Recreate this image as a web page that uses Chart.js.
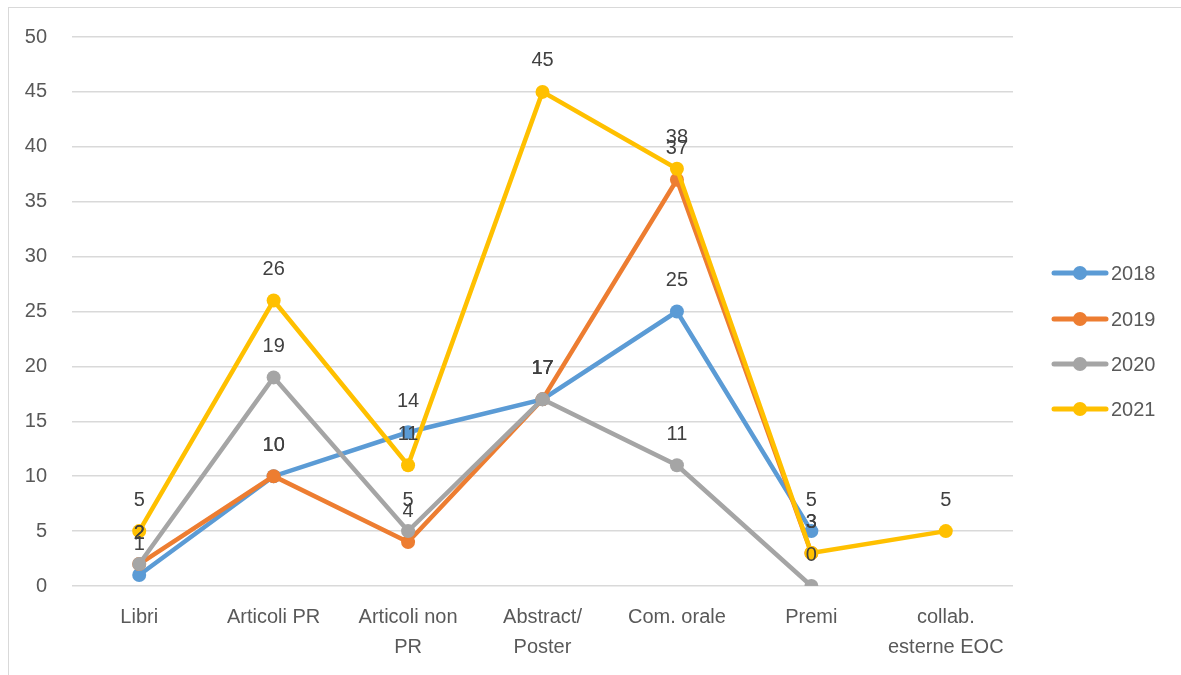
<!DOCTYPE html>
<html><head><meta charset="utf-8">
<script src="https://cdn.jsdelivr.net/npm/chart.js@4/dist/chart.umd.min.js"></script>
<style>
html,body{margin:0;padding:0;background:#fff;}
#wrap{position:relative;width:1181px;height:675px;}
#frame{position:absolute;left:8px;top:7px;width:1200px;height:700px;border:1px solid #d9d9d9;box-sizing:border-box;}
canvas{position:absolute;left:0;top:0;}
</style></head>
<body><div id="wrap"><div id="frame"></div><canvas id="c" width="1181" height="675"></canvas></div>
<script>
const categories = ['Libri', 'Articoli PR', ['Articoli non', 'PR'], ['Abstract/', 'Poster'], 'Com. orale', 'Premi', ['collab.', 'esterne EOC']];
const seriesNames = ['2018', '2019', '2020', '2021'];
const s2018 = [1, 10, 14, 17, 25, 5, null];
const s2019 = [2, 10, 4, 17, 37, 3, null];
const s2020 = [2, 19, 5, 17, 11, 0, null];
const s2021 = [5, 26, 11, 45, 38, 3, 5];
const colors = ['#5B9BD5', '#ED7D31', '#A5A5A5', '#FFC000'];
const yTicks = [0, 5, 10, 15, 20, 25, 30, 35, 40, 45, 50];

const FONT = "'Liberation Sans', Arial, sans-serif";
const allSeries = [s2018, s2019, s2020, s2021];

const datasets = allSeries.map((d, i) => ({
  label: seriesNames[i],
  data: d,
  borderColor: colors[i],
  backgroundColor: colors[i],
  pointBackgroundColor: colors[i],
  pointBorderColor: colors[i],
  borderWidth: 4.5,
  pointRadius: 7,
  pointBorderWidth: 0,
  tension: 0,
  spanGaps: false,
  order: 4 - i
}));

const labelPlugin = {
  id: 'valueLabels',
  afterDatasetsDraw(chart) {
    const ctx = chart.ctx;
    ctx.save();
    ctx.font = '20px ' + FONT;
    ctx.fillStyle = '#404040';
    ctx.textAlign = 'center';
    ctx.textBaseline = 'middle';
    chart.data.datasets.forEach((ds, i) => {
      const meta = chart.getDatasetMeta(i);
      meta.data.forEach((pt, j) => {
        const v = ds.data[j];
        if (v === null || v === undefined) return;
        ctx.fillText(String(v), pt.x, pt.y - 31);
      });
    });
    ctx.restore();
  }
};

const legendPlugin = {
  id: 'customLegend',
  afterDraw(chart) {
    const ctx = chart.ctx;
    ctx.save();
    const ys = [273, 319, 364, 409];
    chart.data.datasets.forEach((ds, i) => {
      const y = ys[i];
      ctx.strokeStyle = ds.borderColor;
      ctx.lineWidth = 5;
      ctx.lineCap = 'round';
      ctx.beginPath();
      ctx.moveTo(1054, y);
      ctx.lineTo(1106, y);
      ctx.stroke();
      ctx.fillStyle = ds.borderColor;
      ctx.beginPath();
      ctx.arc(1080, y, 7, 0, Math.PI * 2);
      ctx.fill();
      ctx.fillStyle = '#595959';
      ctx.font = '20px ' + FONT;
      ctx.textAlign = 'left';
      ctx.textBaseline = 'middle';
      ctx.fillText(ds.label, 1111, y + 1);
    });
    ctx.restore();
  }
};

new Chart(document.getElementById('c'), {
  type: 'line',
  data: { labels: categories, datasets: datasets },
  options: {
    responsive: false,
    animation: false,
    devicePixelRatio: 1,
    layout: { padding: { left: 0, right: 168, top: 35, bottom: 0 } },
    plugins: { legend: { display: false }, tooltip: { enabled: false } },
    scales: {
      x: {
        offset: true,
        grid: { display: false, drawTicks: false, offset: true },
        border: { display: false },
        ticks: { color: '#595959', font: { family: FONT, size: 20, lineHeight: 1.5 }, padding: 16, maxRotation: 0, autoSkip: false },
        afterFit(s) { s.height = 89; }
      },
      y: {
        min: 0, max: 50,
        afterBuildTicks(s) { s.ticks = yTicks.map(v => ({ value: v })); },
        grid: { color: '#d9d9d9', lineWidth: 1.5, drawTicks: false },
        border: { display: false },
        ticks: { color: '#595959', font: { family: FONT, size: 20 }, padding: 25 },
        afterFit(s) { s.width = 72; }
      }
    }
  },
  plugins: [labelPlugin, legendPlugin]
});
</script></body></html>
